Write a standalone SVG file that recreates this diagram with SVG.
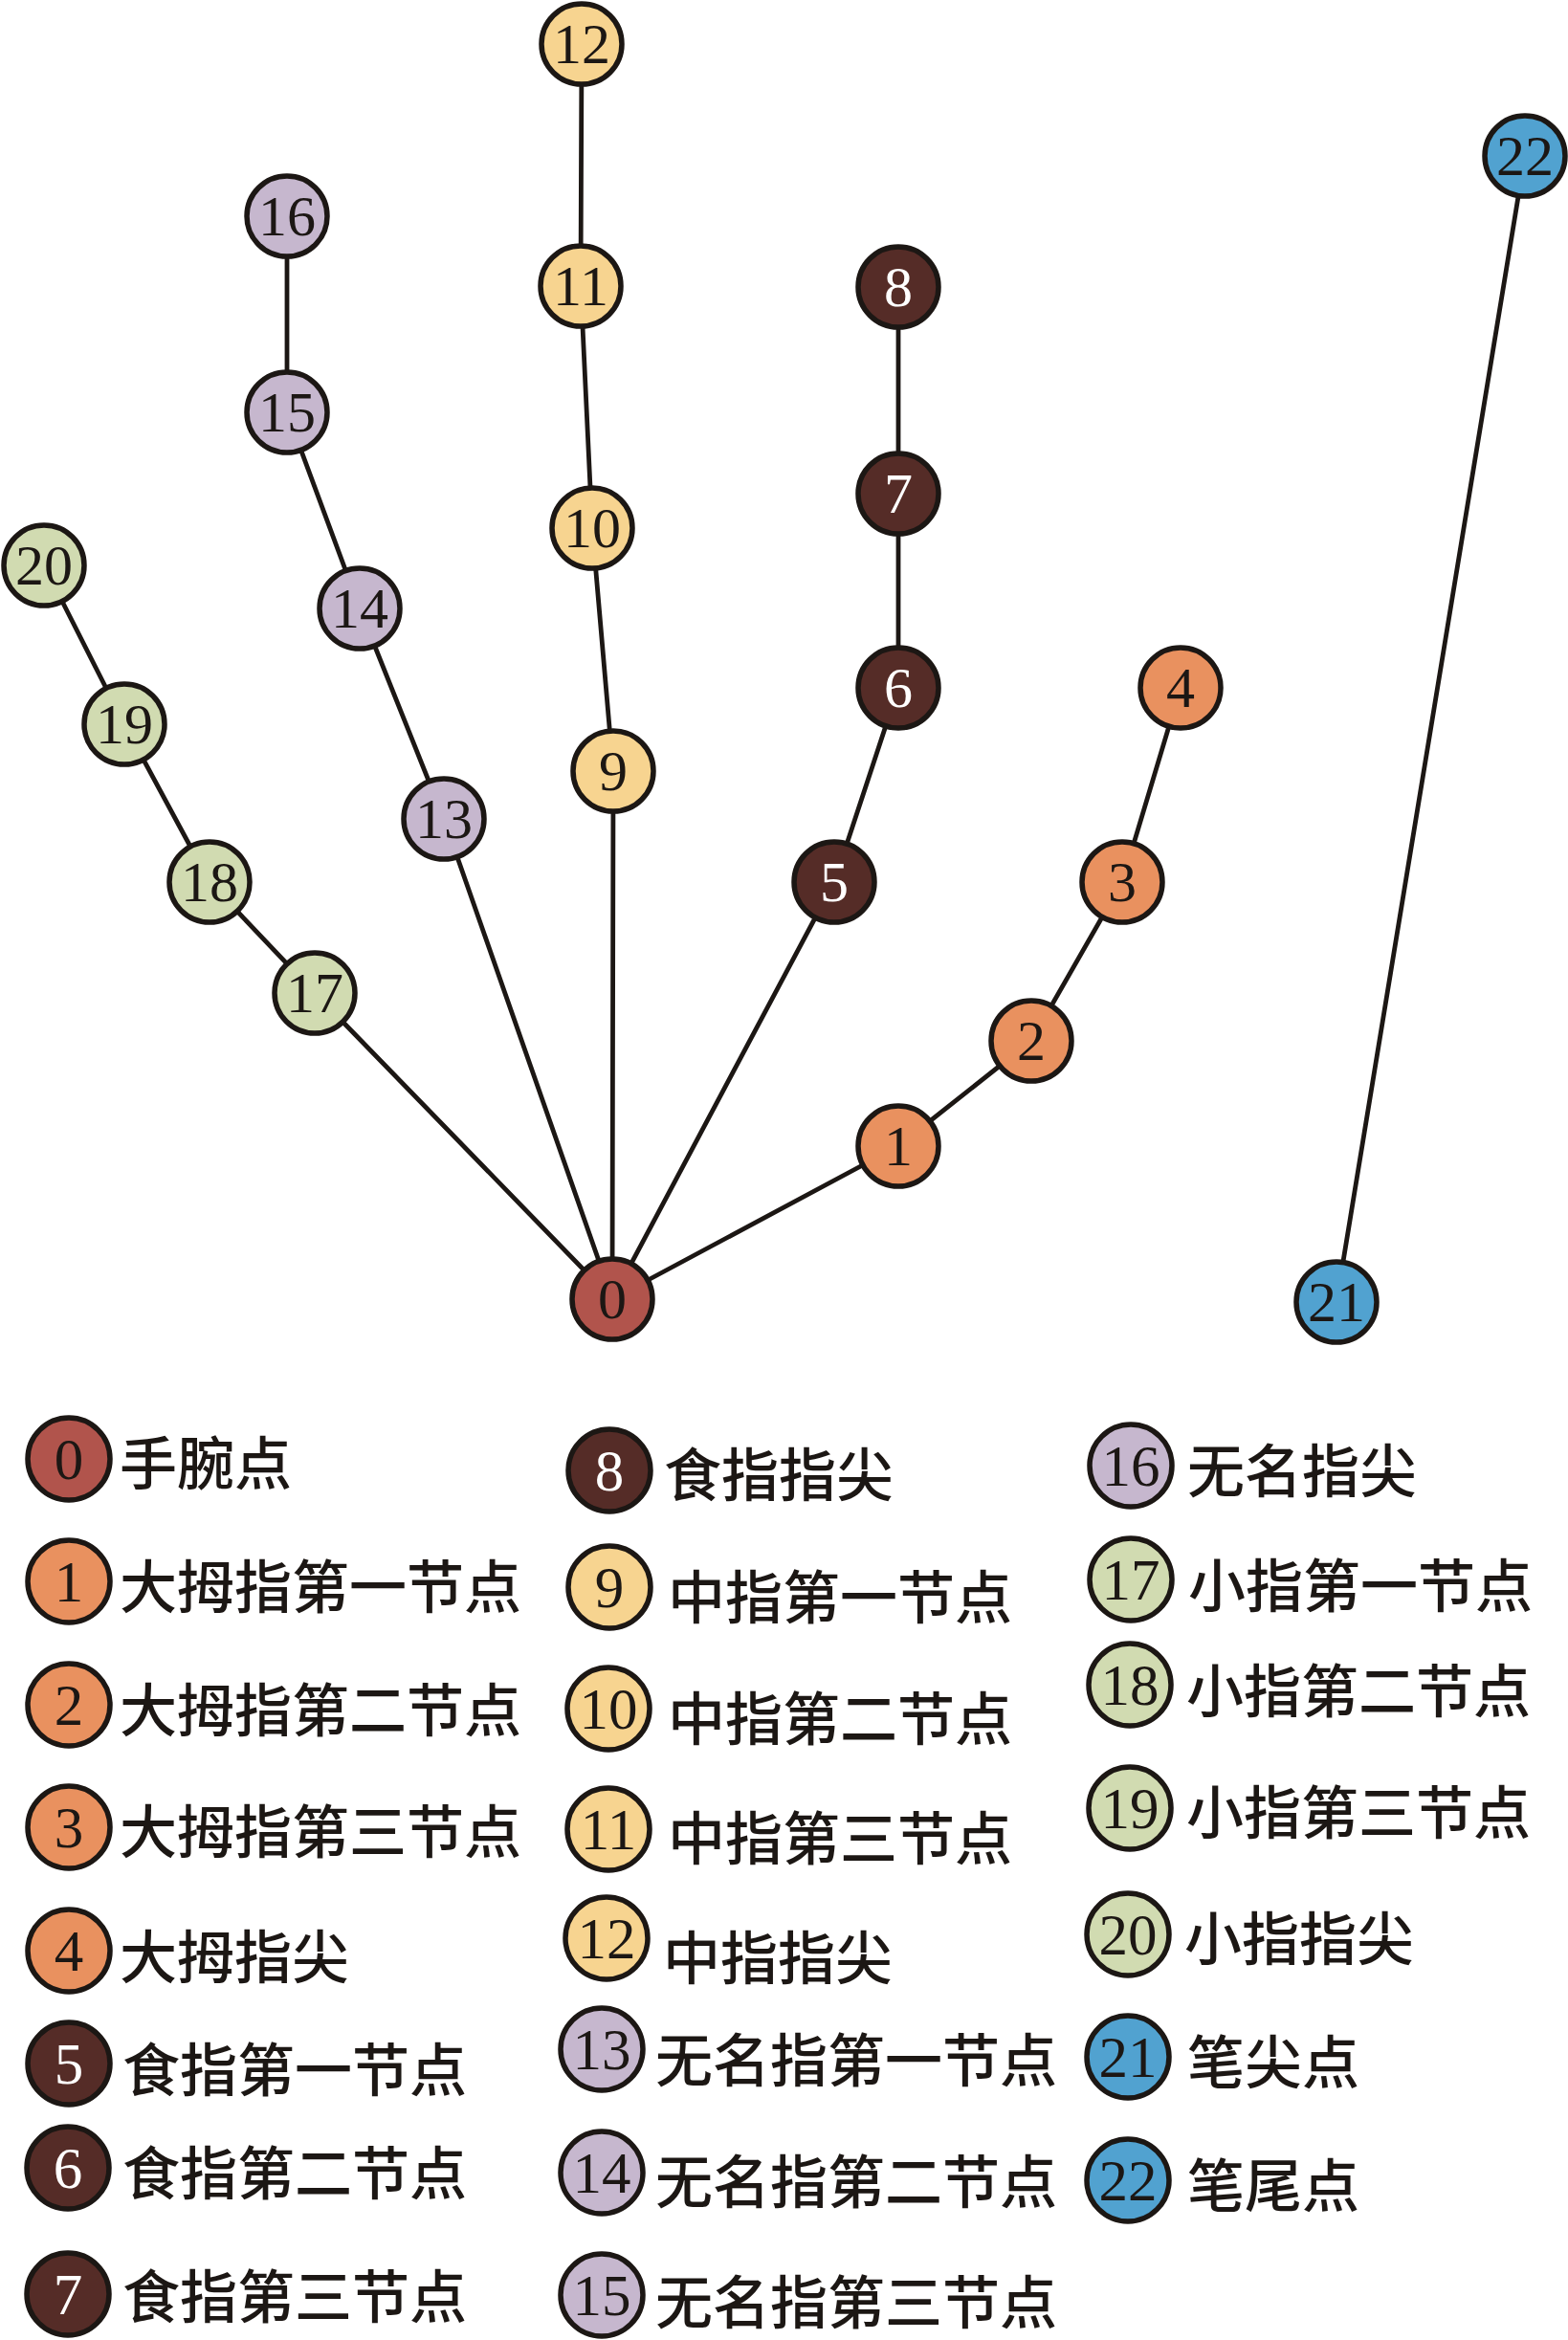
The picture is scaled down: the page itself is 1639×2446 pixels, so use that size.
<svg xmlns="http://www.w3.org/2000/svg" width="1639" height="2446" viewBox="0 0 1639 2446">
<style>
.bg{fill:#ffffff}
.edge{stroke:#1c1714;stroke-width:4.8;fill:none;stroke-linecap:round}
.n{stroke:#1c1714;stroke-width:5.5}
.num{font-family:"Liberation Serif","Times New Roman",serif;font-size:60px;text-anchor:middle;fill:#1c1714}
.lnum{font-family:"Liberation Serif","Times New Roman",serif;font-size:61px;text-anchor:middle;fill:#1c1714}
.w{fill:#ffffff}
.lab{font-family:"Noto Sans CJK SC","Noto Sans CJK JP",sans-serif;font-size:60px;font-weight:500;fill:#1c1714}
.c0{fill:#B1544C}
.c1{fill:#E9915F}
.c2{fill:#552C27}
.c3{fill:#F7D490}
.c4{fill:#C6B7CE}
.c5{fill:#D1DBB1}
.c6{fill:#51A2D0}
</style>
<rect class="bg" x="0" y="0" width="1639" height="2446"/>
<g id="connectors">
<line class="edge" x1="640" y1="1358" x2="939" y2="1198"/>
<line class="edge" x1="939" y1="1198" x2="1078" y2="1088"/>
<line class="edge" x1="1078" y1="1088" x2="1173" y2="922"/>
<line class="edge" x1="1173" y1="922" x2="1234" y2="719"/>
<line class="edge" x1="640" y1="1358" x2="872" y2="922"/>
<line class="edge" x1="872" y1="922" x2="939" y2="719"/>
<line class="edge" x1="939" y1="719" x2="939" y2="516"/>
<line class="edge" x1="939" y1="516" x2="939" y2="300"/>
<line class="edge" x1="640" y1="1358" x2="641" y2="806"/>
<line class="edge" x1="641" y1="806" x2="619" y2="552"/>
<line class="edge" x1="619" y1="552" x2="607" y2="299"/>
<line class="edge" x1="607" y1="299" x2="608" y2="46"/>
<line class="edge" x1="640" y1="1358" x2="464" y2="856"/>
<line class="edge" x1="464" y1="856" x2="376" y2="636"/>
<line class="edge" x1="376" y1="636" x2="300" y2="431"/>
<line class="edge" x1="300" y1="431" x2="300" y2="226"/>
<line class="edge" x1="640" y1="1358" x2="329" y2="1038"/>
<line class="edge" x1="329" y1="1038" x2="219" y2="922"/>
<line class="edge" x1="219" y1="922" x2="130" y2="757"/>
<line class="edge" x1="130" y1="757" x2="46" y2="591"/>
<line class="edge" x1="1397" y1="1361" x2="1594" y2="163"/>
</g>
<g id="node0"><circle class="n c0" cx="640" cy="1358" r="42"/><text class="num" x="640" y="1378">0</text></g>
<g id="node1"><circle class="n c1" cx="939" cy="1198" r="42"/><text class="num" x="939" y="1218">1</text></g>
<g id="node2"><circle class="n c1" cx="1078" cy="1088" r="42"/><text class="num" x="1078" y="1108">2</text></g>
<g id="node3"><circle class="n c1" cx="1173" cy="922" r="42"/><text class="num" x="1173" y="942">3</text></g>
<g id="node4"><circle class="n c1" cx="1234" cy="719" r="42"/><text class="num" x="1234" y="739">4</text></g>
<g id="node5"><circle class="n c2" cx="872" cy="922" r="42"/><text class="num w" x="872" y="942">5</text></g>
<g id="node6"><circle class="n c2" cx="939" cy="719" r="42"/><text class="num w" x="939" y="739">6</text></g>
<g id="node7"><circle class="n c2" cx="939" cy="516" r="42"/><text class="num w" x="939" y="536">7</text></g>
<g id="node8"><circle class="n c2" cx="939" cy="300" r="42"/><text class="num w" x="939" y="320">8</text></g>
<g id="node9"><circle class="n c3" cx="641" cy="806" r="42"/><text class="num" x="641" y="826">9</text></g>
<g id="node10"><circle class="n c3" cx="619" cy="552" r="42"/><text class="num" x="619" y="572">10</text></g>
<g id="node11"><circle class="n c3" cx="607" cy="299" r="42"/><text class="num" x="607" y="319">11</text></g>
<g id="node12"><circle class="n c3" cx="608" cy="46" r="42"/><text class="num" x="608" y="66">12</text></g>
<g id="node13"><circle class="n c4" cx="464" cy="856" r="42"/><text class="num" x="464" y="876">13</text></g>
<g id="node14"><circle class="n c4" cx="376" cy="636" r="42"/><text class="num" x="376" y="656">14</text></g>
<g id="node15"><circle class="n c4" cx="300" cy="431" r="42"/><text class="num" x="300" y="451">15</text></g>
<g id="node16"><circle class="n c4" cx="300" cy="226" r="42"/><text class="num" x="300" y="246">16</text></g>
<g id="node17"><circle class="n c5" cx="329" cy="1038" r="42"/><text class="num" x="329" y="1058">17</text></g>
<g id="node18"><circle class="n c5" cx="219" cy="922" r="42"/><text class="num" x="219" y="942">18</text></g>
<g id="node19"><circle class="n c5" cx="130" cy="757" r="42"/><text class="num" x="130" y="777">19</text></g>
<g id="node20"><circle class="n c5" cx="46" cy="591" r="42"/><text class="num" x="46" y="611">20</text></g>
<g id="node21"><circle class="n c6" cx="1397" cy="1361" r="42"/><text class="num" x="1397" y="1381">21</text></g>
<g id="node22"><circle class="n c6" cx="1594" cy="163" r="42"/><text class="num" x="1594" y="183">22</text></g>
<g id="legend">
<g id="legend0"><circle class="n c0" cx="72" cy="1525" r="43"/><text class="lnum" x="72" y="1546">0</text><text class="lab" x="125" y="1552">手腕点</text></g>
<g id="legend1"><circle class="n c1" cx="72" cy="1653" r="43"/><text class="lnum" x="72" y="1674">1</text><text class="lab" x="125" y="1681">大拇指第一节点</text></g>
<g id="legend2"><circle class="n c1" cx="72" cy="1782" r="43"/><text class="lnum" x="72" y="1803">2</text><text class="lab" x="125" y="1810">大拇指第二节点</text></g>
<g id="legend3"><circle class="n c1" cx="72" cy="1910" r="43"/><text class="lnum" x="72" y="1931">3</text><text class="lab" x="125" y="1937">大拇指第三节点</text></g>
<g id="legend4"><circle class="n c1" cx="72" cy="2039" r="43"/><text class="lnum" x="72" y="2060">4</text><text class="lab" x="125" y="2068">大拇指尖</text></g>
<g id="legend5"><circle class="n c2" cx="72" cy="2157" r="43"/><text class="lnum w" x="72" y="2178">5</text><text class="lab" x="128" y="2186">食指第一节点</text></g>
<g id="legend6"><circle class="n c2" cx="71" cy="2266" r="43"/><text class="lnum w" x="71" y="2287">6</text><text class="lab" x="128" y="2294">食指第二节点</text></g>
<g id="legend7"><circle class="n c2" cx="71" cy="2398" r="43"/><text class="lnum w" x="71" y="2419">7</text><text class="lab" x="128" y="2423">食指第三节点</text></g>
<g id="legend8"><circle class="n c2" cx="637" cy="1537" r="43"/><text class="lnum w" x="637" y="1558">8</text><text class="lab" x="694" y="1564">食指指尖</text></g>
<g id="legend9"><circle class="n c3" cx="637" cy="1659" r="43"/><text class="lnum" x="637" y="1680">9</text><text class="lab" x="698" y="1692">中指第一节点</text></g>
<g id="legend10"><circle class="n c3" cx="636" cy="1786" r="43"/><text class="lnum" x="636" y="1807">10</text><text class="lab" x="698" y="1819">中指第二节点</text></g>
<g id="legend11"><circle class="n c3" cx="636" cy="1912" r="43"/><text class="lnum" x="636" y="1933">11</text><text class="lab" x="698" y="1944">中指第三节点</text></g>
<g id="legend12"><circle class="n c3" cx="634" cy="2026" r="43"/><text class="lnum" x="634" y="2047">12</text><text class="lab" x="693" y="2069">中指指尖</text></g>
<g id="legend13"><circle class="n c4" cx="629" cy="2142" r="43"/><text class="lnum" x="629" y="2163">13</text><text class="lab" x="685" y="2176">无名指第一节点</text></g>
<g id="legend14"><circle class="n c4" cx="629" cy="2271" r="43"/><text class="lnum" x="629" y="2292">14</text><text class="lab" x="685" y="2303">无名指第二节点</text></g>
<g id="legend15"><circle class="n c4" cx="629" cy="2399" r="43"/><text class="lnum" x="629" y="2420">15</text><text class="lab" x="685" y="2429">无名指第三节点</text></g>
<g id="legend16"><circle class="n c4" cx="1182" cy="1532" r="43"/><text class="lnum" x="1182" y="1553">16</text><text class="lab" x="1241" y="1560">无名指尖</text></g>
<g id="legend17"><circle class="n c5" cx="1182" cy="1651" r="43"/><text class="lnum" x="1182" y="1672">17</text><text class="lab" x="1242" y="1680">小指第一节点</text></g>
<g id="legend18"><circle class="n c5" cx="1181" cy="1761" r="43"/><text class="lnum" x="1181" y="1782">18</text><text class="lab" x="1240" y="1790">小指第二节点</text></g>
<g id="legend19"><circle class="n c5" cx="1181" cy="1890" r="43"/><text class="lnum" x="1181" y="1911">19</text><text class="lab" x="1240" y="1917">小指第三节点</text></g>
<g id="legend20"><circle class="n c5" cx="1179" cy="2022" r="43"/><text class="lnum" x="1179" y="2043">20</text><text class="lab" x="1238" y="2049">小指指尖</text></g>
<g id="legend21"><circle class="n c6" cx="1179" cy="2150" r="43"/><text class="lnum" x="1179" y="2171">21</text><text class="lab" x="1241" y="2178">笔尖点</text></g>
<g id="legend22"><circle class="n c6" cx="1179" cy="2279" r="43"/><text class="lnum" x="1179" y="2300">22</text><text class="lab" x="1241" y="2307">笔尾点</text></g>
</g>
</svg>
